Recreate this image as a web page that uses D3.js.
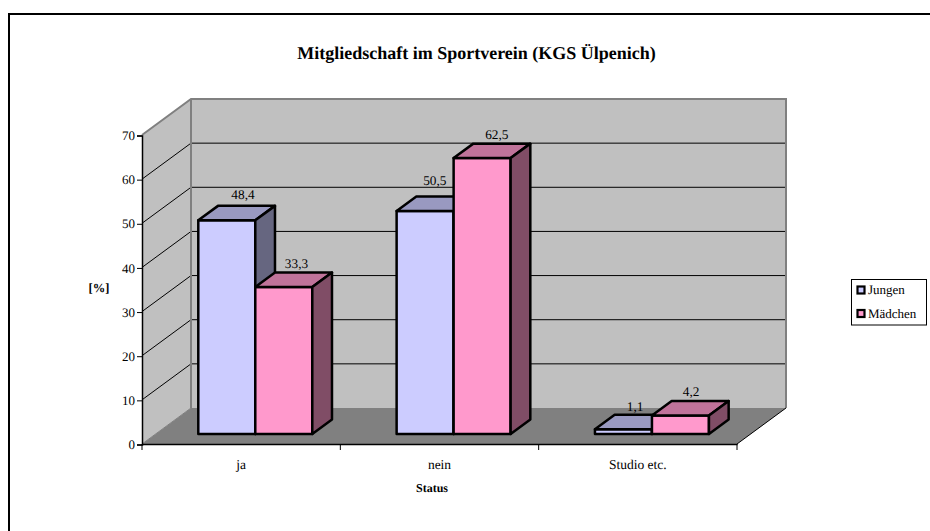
<!DOCTYPE html>
<html><head><meta charset="utf-8">
<script src="https://cdnjs.cloudflare.com/ajax/libs/d3/7.8.5/d3.min.js"></script>
<style>html,body{margin:0;padding:0;background:#fff}svg{display:block}text{font-family:"Liberation Serif",serif;fill:#000;text-rendering:geometricPrecision}</style>
</head><body><svg id="c" width="930" height="531"></svg>
<script>
const categories = ["ja", "nein", "Studio etc."];
const seriesNames = ["Jungen", "Mädchen"];
const jungen = [48.4, 50.5, 1.1];
const maedchen = [33.3, 62.5, 4.2];
const labelsJungen = ["48,4", "50,5", "1,1"];
const labelsMaedchen = ["33,3", "62,5", "4,2"];
const yTicks = [0, 10, 20, 30, 40, 50, 60, 70];
const title = "Mitgliedschaft im Sportverein (KGS Ülpenich)";

const svg = d3.select("#c");
const colors = [
  {front:"#CCCCFF", top:"#9999C0", side:"#666680"},
  {front:"#FF99CC", top:"#C0739A", side:"#804D66"}
];
// placement of the value labels relative to the back top edge of each bar
const labelNudge = [
  [[-3.5,-11],[-10,-16],[-8,-8]],
  [[-7,-9],[-5,-9],[-9,-9]]
];
const depth = {x:49, y:-36};
const y = d3.scaleLinear().domain([0,70]).range([444,135]);
const x0 = d3.scaleBand().domain(categories).range([142,737]);
const x1 = d3.scaleBand().domain(seriesNames).range([0,114]);
const barPad = (x0.bandwidth()-114)/2 + 0.5;
const z0 = 0.278, z1 = 0.68;
const P = (px,v,z)=>[px+depth.x*z, y(v)+depth.y*z];
const poly = pts=>"M"+pts.map(p=>p.join(",")).join("L")+"Z";

svg.append("rect").attr("x",9).attr("y",14).attr("width",940).attr("height",540).attr("fill","#fff").attr("stroke","#000").attr("stroke-width",2);

// walls
const xL=142,xR=737;
svg.append("path").attr("d",poly([P(xL,0,0),P(xR,0,0),P(xR,0,1),P(xL,0,1)])).attr("fill","#808080");
svg.append("path").attr("d",poly([P(xL,0,0),P(xL,0,1),P(xL,70,1),P(xL,70,0)])).attr("fill","#C0C0C0");
svg.append("path").attr("d",poly([P(xL,0,1),P(xR,0,1),P(xR,70,1),P(xL,70,1)])).attr("fill","#C0C0C0");

// gridlines
yTicks.slice(1,-1).forEach(t=>{
  svg.append("path").attr("d","M"+P(xL,t,0)+"L"+P(xL,t,1)+"L"+P(xR,t,1)).attr("fill","none").attr("stroke","#000").attr("stroke-width",1);
});
// wall edges
svg.append("path").attr("d","M"+P(xL,70,0)+"L"+P(xL,70,1)+"L"+P(xR,70,1)+"L"+P(xR,0,1)).attr("fill","none").attr("stroke","#808080").attr("stroke-width",2);
svg.append("path").attr("d","M"+P(xL,70,1)+"L"+P(xL,0,1)).attr("fill","none").attr("stroke","#808080").attr("stroke-width",2);
svg.append("path").attr("d","M"+P(xL,0,0)+"L"+P(xL,0,1)).attr("fill","none").attr("stroke","#808080").attr("stroke-width",1);
svg.append("path").attr("d","M"+P(xR,0,0)+"L"+P(xR,0,1)).attr("fill","none").attr("stroke","#000").attr("stroke-width",1);

// axes
const yAxis = d3.axisLeft(y).tickValues(yTicks).tickSize(5).tickPadding(2);
const gy = svg.append("g").attr("transform","translate(142,0.5)").call(yAxis);
gy.selectAll("text").style("font-size","13px");
gy.select(".domain").attr("stroke","#000").attr("stroke-width",1.5);
const xAxis = d3.axisBottom(x0).tickSize(0).tickPadding(15);
const gx = svg.append("g").attr("transform","translate(0,444)").call(xAxis);
gx.selectAll("text").style("font-size","13.5px");
gx.select(".domain").attr("stroke","#000").attr("stroke-width",1.5);
[0,1,2,3].forEach(i=>{
  const px = xL + i*x0.step();
  svg.append("line").attr("x1",px).attr("x2",px).attr("y1",444).attr("y2",450).attr("stroke","#000");
});

// bars
const all = [jungen, maedchen];
const lbl = [labelsJungen, labelsMaedchen];
function bar(cat,si){
  const ci = categories.indexOf(cat);
  const v = all[si][ci];
  const a = x0(cat)+barPad+x1(seriesNames[si]);
  const b = a+x1.bandwidth();
  const c = colors[si];
  const g = svg.append("g").attr("stroke","#000").attr("stroke-width",2.5).attr("stroke-linejoin","round");
  g.append("path").attr("d",poly([P(a,0,z0),P(b,0,z0),P(b,v,z0),P(a,v,z0)])).attr("fill",c.front);
  g.append("path").attr("d",poly([P(a,v,z0),P(b,v,z0),P(b,v,z1),P(a,v,z1)])).attr("fill",c.top);
  g.append("path").attr("d",poly([P(b,0,z0),P(b,0,z1),P(b,v,z1),P(b,v,z0)])).attr("fill",c.side);
}
categories.forEach(cat=>{bar(cat,0);bar(cat,1);});
categories.forEach((cat,ci)=>{
  seriesNames.forEach((n,si)=>{
    const a = x0(cat)+barPad+x1(n);
    const t = P(a+x1.bandwidth()/2,all[si][ci],z1);
    const d = labelNudge[si][ci];
    svg.append("text").attr("x",t[0]+d[0]).attr("y",t[1]+d[1]).attr("dy","0.32em").attr("text-anchor","middle").style("font-size","13.3px").text(lbl[si][ci]);
  });
});

// titles
svg.append("text").attr("x",476.5).attr("y",59).attr("text-anchor","middle").style("font-size","18px").style("font-weight","bold").text(title);
svg.append("text").attr("x",99).attr("y",292).attr("text-anchor","middle").style("font-size","12.5px").style("font-weight","bold").text("[%]");
svg.append("text").attr("x",432).attr("y",492).attr("text-anchor","middle").style("font-size","12px").style("font-weight","bold").text("Status");

// legend
svg.append("rect").attr("x",851.5).attr("y",279.5).attr("width",75).attr("height",45.5).attr("fill","#fff").attr("stroke","#000");
seriesNames.forEach((n,i)=>{
  const ly = 290+i*23.5;
  svg.append("rect").attr("x",857.5).attr("y",ly-3.5).attr("width",7).attr("height",7).attr("fill",colors[i].front).attr("stroke","#000").attr("stroke-width",2.2);
  svg.append("text").attr("x",868).attr("y",ly+4).style("font-size","13px").text(n);
});
</script></body></html>
